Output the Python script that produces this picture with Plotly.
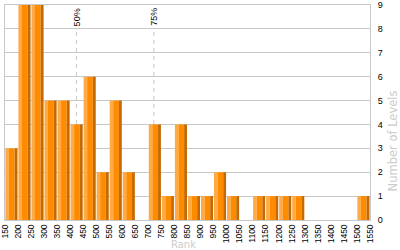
import plotly.graph_objects as go

# Data
bin_starts = list(range(150, 1550, 50))
counts = [3, 9, 9, 5, 5, 4, 6, 2, 5, 2, 0, 4, 1, 4, 1, 1, 2, 1, 0, 1, 1, 1, 1, 0, 0, 0, 0, 1]
tick_vals = list(range(150, 1551, 50))
tick_text = [str(v) for v in tick_vals]
y_ticks = list(range(0, 10))
percentile_x = [424, 721]
percentile_labels = ["50%", "75%"]

LIGHT = "#FFAA44"
MAIN = "#FF8C00"
DARK = "#C46A00"
GRID = "#C8C8C8"

fig = go.Figure()
# three-tone bars (light left edge, main body, dark right edge)
for off, w, col in [(1.5, 13.5, LIGHT), (15, 22, MAIN), (37, 11, DARK)]:
    fig.add_trace(go.Bar(
        x=bin_starts, y=counts, offset=off, width=w,
        marker=dict(color=col, line=dict(width=0)),
        showlegend=False, hoverinfo="skip"))

shapes = []
annotations = []
for px, lab in zip(percentile_x, percentile_labels):
    shapes.append(dict(type="line", xref="x", yref="y", x0=px, x1=px, y0=0, y1=8.0,
                       line=dict(color=GRID, width=1, dash="4px,4px"), layer="below"))
    annotations.append(dict(x=px, y=8.5, xref="x", yref="y", text=lab, textangle=-90,
                            showarrow=False, xanchor="center", yanchor="middle",
                            font=dict(family="Liberation Sans", size=9, color="black")))

annotations.append(dict(x=0.49, y=-0.115, xref="paper", yref="paper", text="Rank",
                        showarrow=False, xanchor="center", yanchor="middle",
                        font=dict(family="DejaVu Sans", size=10, color="#CCCCCC")))
annotations.append(dict(x=1.063, y=0.37, xref="paper", yref="paper", text="Number of Levels",
                        textangle=-90, showarrow=False, xanchor="center", yanchor="middle",
                        font=dict(family="DejaVu Sans", size=11.5, color="#CCCCCC")))

fig.update_layout(
    width=400, height=250,
    margin=dict(l=5, r=30, t=5, b=30, autoexpand=False),
    paper_bgcolor="white", plot_bgcolor="white",
    barmode="overlay",
    shapes=shapes, annotations=annotations,
    xaxis=dict(range=[150, 1550], tickvals=tick_vals, ticktext=tick_text, tickangle=-90,
               automargin=False, ticklabeloverflow="allow",
               showgrid=False, zeroline=False, showline=True, linecolor=GRID, linewidth=1,
               mirror=True, ticks="", tickfont=dict(family="Liberation Sans", size=8.5, color="black")),
    yaxis=dict(range=[0, 9], tickvals=y_ticks, side="right", showgrid=True, gridcolor=GRID,
               automargin=False, ticklabeloverflow="allow",
               gridwidth=1, zeroline=False, showline=True, linecolor=GRID, linewidth=1,
               mirror=True, ticks="", ticklabelstandoff=5,
               tickfont=dict(family="Liberation Sans", size=9, color="black")),
)

fig.write_html("out.html")
